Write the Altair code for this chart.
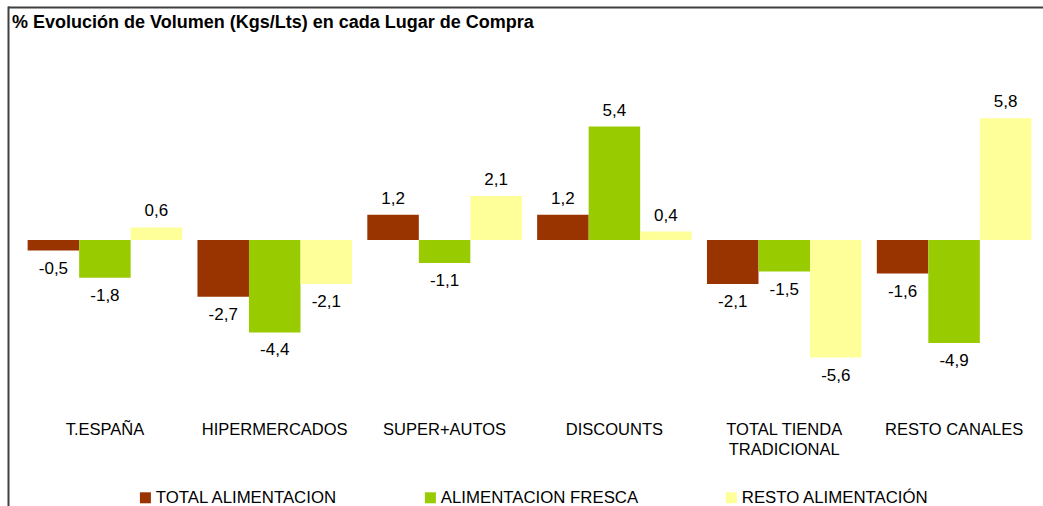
import altair as alt
import pandas as pd

categories = ["T.ESPAÑA", "HIPERMERCADOS", "SUPER+AUTOS", "DISCOUNTS",
              "TOTAL TIENDA|TRADICIONAL", "RESTO CANALES"]
series = ["TOTAL ALIMENTACION", "ALIMENTACION FRESCA", "RESTO ALIMENTACIÓN"]
total_alim = [-0.5, -2.7, 1.2, 1.2, -2.1, -1.6]
alim_fresca = [-1.8, -4.4, -1.1, 5.4, -1.5, -4.9]
resto_alim = [0.6, -2.1, 2.1, 0.4, -5.6, 5.8]
colors = ["#993300", "#99CC00", "#FFFF99"]
title_text = "% Evolución de Volumen (Kgs/Lts) en cada Lugar de Compra"

rows = []
for s, vals in zip(series, [total_alim, alim_fresca, resto_alim]):
    for c, v in zip(categories, vals):
        rows.append({"cat": c, "serie": s, "val": v})
df = pd.DataFrame(rows)

FONT = "Liberation Sans"

x_enc = alt.X("cat:N", sort=categories,
              scale=alt.Scale(paddingInner=0.09, paddingOuter=0.045),
              axis=alt.Axis(title=None, domain=False, ticks=False, labelAngle=0,
                            labelFontSize=16.5, labelFont=FONT, labelColor="#000000",
                            labelPadding=13, labelLimit=300, labelLineHeight=20,
                            labelExpr="split(datum.label, '|')"))
xo_enc = alt.XOffset("serie:N", sort=series,
                     scale=alt.Scale(paddingInner=0, paddingOuter=0))
y_scale = alt.Scale(domain=[-8, 10], nice=False, zero=False)

base = alt.Chart(df).transform_calculate(
    lab="(datum.val < 0 ? '-' : '') + replace(format(abs(datum.val), '.1f'), '.', ',')"
)

bars = base.mark_bar(strokeWidth=0).encode(
    x=x_enc,
    xOffset=xo_enc,
    y=alt.Y("val:Q", scale=y_scale, axis=None),
    color=alt.Color("serie:N", sort=series,
                    scale=alt.Scale(domain=series, range=colors),
                    legend=alt.Legend(title=None, orient="none", legendX=117, legendY=459,
                                      direction="horizontal", symbolType="square",
                                      symbolSize=121, symbolStrokeWidth=0,
                                      labelFontSize=16.8, labelFont=FONT,
                                      labelColor="#000000", labelOffset=2,
                                      columnPadding=84, padding=0, labelLimit=400)),
)

pos_labels = base.transform_filter("datum.val >= 0").mark_text(
    fontSize=17, font=FONT, color="#000000", baseline="alphabetic", dy=-11
).encode(x=x_enc, xOffset=xo_enc, y=alt.Y("val:Q", scale=y_scale), text="lab:N")

neg_labels = base.transform_filter("datum.val < 0").mark_text(
    fontSize=17, font=FONT, color="#000000", baseline="alphabetic", dy=23
).encode(x=x_enc, xOffset=xo_enc, y=alt.Y("val:Q", scale=y_scale), text="lab:N")

one = alt.Data(values=[{"t": title_text}])

title = alt.Chart(one).mark_text(
    fontSize=18, font=FONT, fontWeight="bold", color="#000000",
    align="left", baseline="alphabetic"
).encode(x=alt.value(-8), y=alt.value(-2), text="t:N")

top_line = alt.Chart(one).mark_rule(color="#404040", strokeWidth=2).encode(
    x=alt.value(-12), x2=alt.value(1030), y=alt.value(-22.5))
left_line = alt.Chart(one).mark_rule(color="#404040", strokeWidth=2).encode(
    x=alt.value(-11.5), y=alt.value(-23.5), y2=alt.value(500))

chart = alt.layer(bars, pos_labels, neg_labels, title, top_line, left_line).properties(
    width=1019, height=378,
    autosize=alt.AutoSizeParams(type="none"),
    padding={"left": 20, "top": 30, "right": 4, "bottom": 98},
    background="#ffffff",
).configure_view(strokeWidth=0)

chart.save("out.html", embed_options={"renderer": "svg", "actions": False})
